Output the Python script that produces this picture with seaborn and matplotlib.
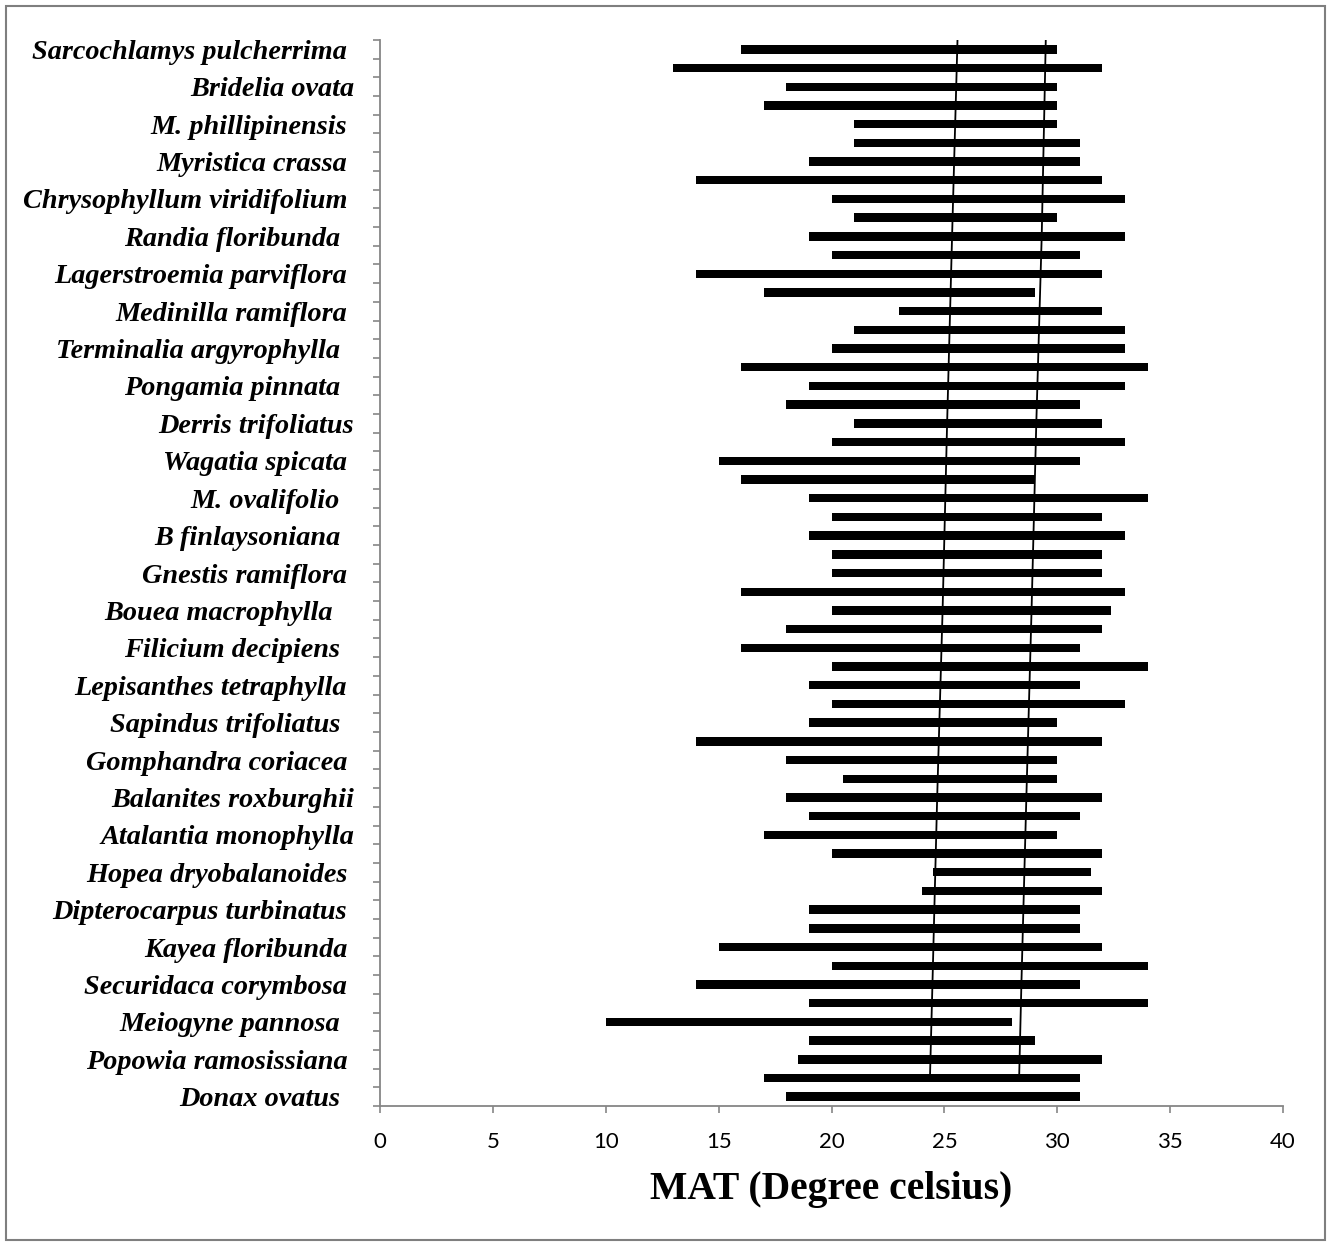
import numpy as np
import pandas as pd
import matplotlib
matplotlib.use("Agg")
import matplotlib.pyplot as plt
import seaborn as sns
from matplotlib.patches import Rectangle

# --- data ---
# labels shown on every second row (rows 0, 2, 4, ... 56)
# (trailing spaces kept as in the original labels)
species = [
    "Sarcochlamys pulcherrima ", "Bridelia ovata", "M. phillipinensis ",
    "Myristica crassa ", "Chrysophyllum viridifolium ", "Randia floribunda  ",
    "Lagerstroemia parviflora ", "Medinilla ramiflora ", "Terminalia argyrophylla  ",
    "Pongamia pinnata  ", "Derris trifoliatus", "Wagatia spicata ",
    "M. ovalifolio  ", "B finlaysoniana  ", "Gnestis ramiflora ",
    "Bouea macrophylla   ", "Filicium decipiens  ", "Lepisanthes tetraphylla ",
    "Sapindus trifoliatus  ", "Gomphandra coriacea ", "Balanites roxburghii",
    "Atalantia monophylla", "Hopea dryobalanoides ", "Dipterocarpus turbinatus ",
    "Kayea floribunda ", "Securidaca corymbosa ", "Meiogyne pannosa  ",
    "Popowia ramosissiana ", "Donax ovatus  ",
]

# min / max MAT of each bar, top to bottom
mat_min = [16, 13, 18, 17, 21, 21, 19, 14, 20, 21, 19, 20, 14, 17, 23,
           21, 20, 16, 19, 18, 21, 20, 15, 16, 19, 20, 19, 20, 20,
           16, 20, 18, 16, 20, 19, 20, 19, 14, 18, 20.5, 18, 19, 17,
           20, 24.5, 24, 19, 19, 15, 20, 14, 19, 10, 19, 18.5, 17, 18]
mat_max = [30, 32, 30, 30, 30, 31, 31, 32, 33, 30, 33, 31, 32, 29, 32,
           33, 33, 34, 33, 31, 32, 33, 31, 29, 34, 32, 33, 32, 32,
           33, 32.4, 32, 31, 34, 31, 33, 30, 32, 30, 30, 32, 31, 30,
           32, 31.5, 32, 31, 31, 32, 34, 31, 34, 28, 29, 32, 31, 31]

# the two thin reference lines (row position, MAT)
line_rows = [-0.5, 10, 20, 30, 40, 50, 55]
line_low = [25.58, 25.34, 25.12, 24.92, 24.68, 24.47, 24.36]
line_high = [29.49, 29.31, 29.07, 28.86, 28.63, 28.41, 28.31]

x_ticks = [0, 5, 10, 15, 20, 25, 30, 35, 40]

gray = "#868686"

sns.set_style("white")
plt.rcParams["text.color"] = "black"
plt.rcParams["xtick.color"] = "black"
plt.rcParams["ytick.color"] = "black"
plt.rcParams["axes.labelcolor"] = "black"

fig = plt.figure(figsize=(13.3, 12.45), dpi=100)
ax = fig.add_axes([0.2857, 0.1116, 0.6790, 0.8563])

df = pd.DataFrame({"row": np.arange(len(mat_min)), "lo": mat_min, "hi": mat_max})
sns.barplot(data=df, x="hi", y="row", orient="h", color="black",
            saturation=1, width=0.45, errorbar=None, ax=ax)
# turn the bars into floating ranges
for patch, a, b in zip(ax.patches, mat_min, mat_max):
    patch.set_x(a)
    patch.set_width(b - a)
    patch.set_edgecolor("none")

sns.lineplot(x=line_low, y=line_rows, sort=False, orient="y",
             color="black", lw=1.3, ax=ax)
sns.lineplot(x=line_high, y=line_rows, sort=False, orient="y",
             color="black", lw=1.3, ax=ax)

ax.set_xlim(0, 40)
ax.set_ylim(len(mat_min) - 0.5, -0.5)

# y axis: labels on every second row, small ticks between rows
ax.set_yticks(np.arange(0, len(mat_min), 2))
ax.set_yticklabels(species, fontfamily="Liberation Serif", fontweight="bold",
                   fontstyle="italic", fontsize=20.3, color="black")
ax.set_yticks(np.arange(-0.5, len(mat_min), 1), minor=True)
ax.tick_params(axis="y", which="major", left=False, length=0, pad=18.5)
ax.tick_params(axis="y", which="minor", left=True, length=5, width=1.2, color=gray)

ax.set_xticks(x_ticks)
ax.set_xticklabels([str(t) for t in x_ticks], fontfamily="Lato", fontsize=16,
                   color="black")
ax.tick_params(axis="x", bottom=True, length=5, width=1.2, color=gray, pad=14)

ax.set_ylabel("")
ax.set_xlabel("MAT (Degree celsius)", fontfamily="Liberation Serif",
              fontweight="bold", fontsize=28.5, labelpad=13, color="black")

for side in ["top", "right"]:
    ax.spines[side].set_visible(False)
for side in ["left", "bottom"]:
    ax.spines[side].set_color(gray)
    ax.spines[side].set_linewidth(1.3)

# outer frame around the figure
fig.patches.append(Rectangle((0.0045, 0.004), 0.9915, 0.991, transform=fig.transFigure,
                             fill=False, edgecolor="#7f7f7f", lw=1.5))

fig.savefig("out.png", dpi=100)
